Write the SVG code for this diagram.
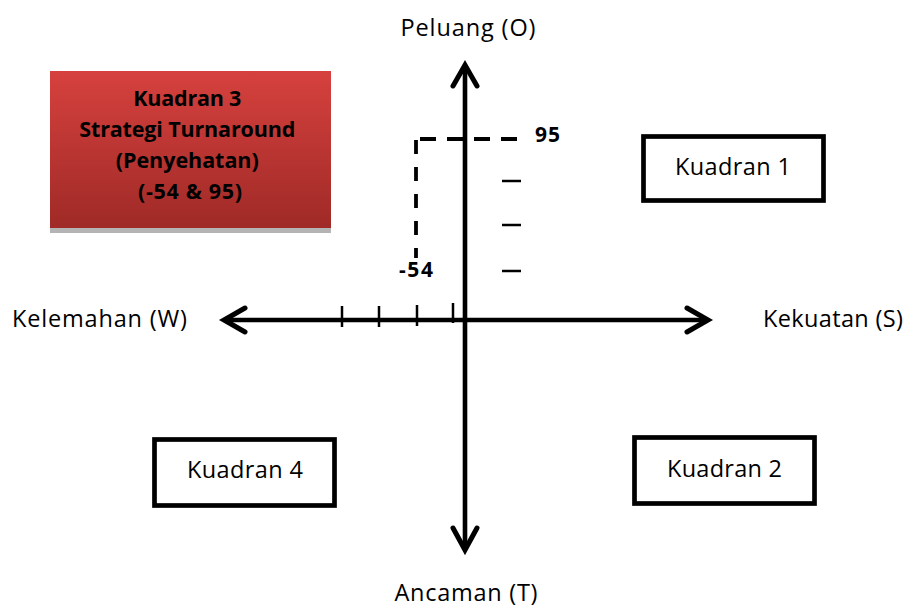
<svg xmlns="http://www.w3.org/2000/svg" width="908" height="608" viewBox="0 0 908 608">
<defs>
<linearGradient id="red" x1="0" y1="0" x2="0" y2="1">
<stop offset="0" stop-color="#d6413e"/>
<stop offset="1" stop-color="#9f2a27"/>
</linearGradient>
<style>
.lbl{font-family:"Open Sans","Liberation Sans",sans-serif;font-size:23.5px;fill:#000}
.bold{font-family:"Open Sans","Liberation Sans",sans-serif;font-weight:bold;fill:#000}
.box{fill:#fff;stroke:#000;stroke-width:4.7}
.axis{stroke:#000;stroke-width:4.6;fill:none}
.head{stroke:#000;stroke-width:5;fill:none;stroke-linecap:round;stroke-linejoin:miter}
.tick{stroke:#000;stroke-width:2.5}
.dash{stroke:#000;stroke-width:3.8;fill:none}
</style>
</defs>
<rect width="908" height="608" fill="#fff"/>

<g id="connectors">
<line class="axis" x1="465" y1="66" x2="465" y2="550"/>
<polyline class="head" points="453,86 465,65 477,86"/>
<polyline class="head" points="453,528 465,550 477,528"/>
<line class="axis" x1="225" y1="320" x2="707" y2="320"/>
<polyline class="head" points="245,308 224,320 245,332"/>
<polyline class="head" points="687,308 708,320 687,332"/>
<line class="tick" x1="342" y1="306" x2="342" y2="327"/>
<line class="tick" x1="379" y1="306" x2="379" y2="327"/>
<line class="tick" x1="417" y1="305" x2="417" y2="326"/>
<line class="tick" x1="453" y1="303" x2="453" y2="323"/>
<line class="tick" x1="502" y1="181" x2="521" y2="181"/>
<line class="tick" x1="502" y1="225" x2="521" y2="225"/>
<line class="tick" x1="502" y1="271" x2="521" y2="271"/>
<line class="dash" x1="416" y1="140" x2="416" y2="258" stroke-dasharray="14 13"/>
<line class="dash" x1="420" y1="139" x2="520" y2="139" stroke-dasharray="16 11"/>
</g>

<g id="label-o"><text class="lbl" x="468" y="36" text-anchor="middle" textLength="135">Peluang (O)</text></g>
<g id="label-t"><text class="lbl" x="466" y="601" text-anchor="middle" textLength="143">Ancaman (T)</text></g>
<g id="label-w"><text class="lbl" x="12" y="327" textLength="175">Kelemahan (W)</text></g>
<g id="label-s"><text class="lbl" x="763" y="327" textLength="140">Kekuatan (S)</text></g>

<g id="val-95"><text class="bold" x="535" y="142" font-size="21" textLength="25">95</text></g>
<g id="val-54"><text class="bold" x="399" y="277" font-size="21" textLength="34">-54</text></g>

<g id="kuadran3">
<rect x="50" y="228" width="281" height="5" fill="#b4b4b4"/>
<rect x="50" y="71" width="281" height="157" fill="url(#red)"/>
<text class="bold" font-size="21.5" text-anchor="middle">
<tspan x="190" y="106" textLength="108">Kuadran 3</tspan>
<tspan x="190" y="137" textLength="216">Strategi Turnaround</tspan>
<tspan x="190" y="168" textLength="143">(Penyehatan)</tspan>
<tspan x="190" y="199" textLength="104">(-54 &amp; 95)</tspan>
</text>
</g>

<g id="kuadran1">
<rect class="box" x="643.5" y="136.5" width="180" height="64"/>
<text class="lbl" x="733" y="175" text-anchor="middle" textLength="116">Kuadran 1</text>
</g>
<g id="kuadran2">
<rect class="box" x="634.5" y="437.5" width="180" height="66"/>
<text class="lbl" x="724.5" y="477" text-anchor="middle" textLength="115">Kuadran 2</text>
</g>
<g id="kuadran4">
<rect class="box" x="154.5" y="439.5" width="180" height="66"/>
<text class="lbl" x="245" y="478" text-anchor="middle" textLength="116">Kuadran 4</text>
</g>
</svg>
